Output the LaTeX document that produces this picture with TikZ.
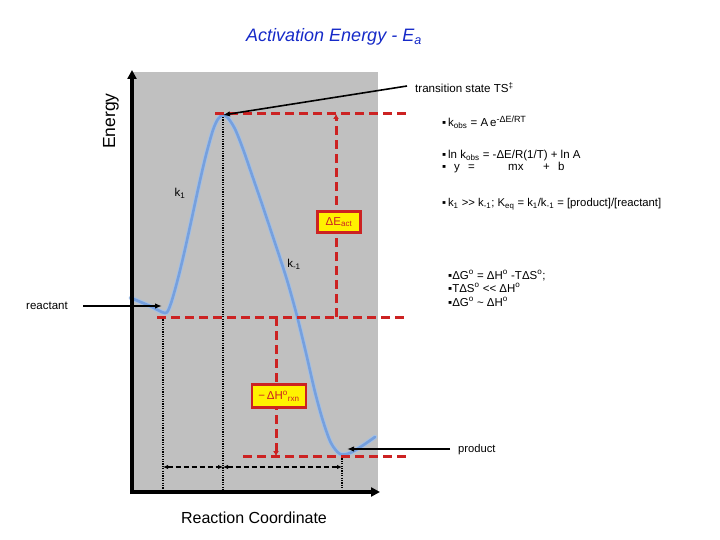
\documentclass[tikz,border=0pt]{standalone}
\usepackage{fontspec}
\setmainfont{Liberation Sans}
\usetikzlibrary{arrows.meta}
\definecolor{redc}{RGB}{204,34,34}
\definecolor{grayc}{RGB}{192,192,192}
\definecolor{curvec}{RGB}{118,160,222}
\definecolor{curvebl}{RGB}{165,192,228}
\definecolor{titlec}{RGB}{22,42,200}
\tikzset{
  redline/.style={draw=redc, line width=3pt, dash pattern=on 9pt off 5pt},
  redarrow/.style={redline, -{Latex[length=5pt,width=6pt]}},
  dotline/.style={draw=black, line width=2pt, dash pattern=on 1.2pt off 1.2pt},
  dashblk/.style={draw=black, line width=1.3pt, dash pattern=on 5pt off 3pt, {Latex[length=5pt,width=4.5pt]}-{Latex[length=5pt,width=4.5pt]}},
  pointer/.style={draw=black, line width=1.6pt, -{Latex[length=7pt,width=5.5pt]}},
  axis/.style={draw=black, line width=3.5pt, -{Triangle[length=9pt,width=9pt]}},
  labelbox/.style={fill=yellow, draw=redc, line width=2.5pt, text=redc, inner sep=1pt, font=\fontsize{11.5}{12}\selectfont},
  txt/.style={font=\fontsize{11.5}{13}\selectfont, anchor=base west, inner sep=0pt},
  gtxt/.style={font=\fontsize{11.5}{13}\selectfont, anchor=base west, inner sep=0pt},
  lbl/.style={font=\fontsize{11.5}{13}\selectfont, inner sep=0pt}
}
\newcommand{\curvepts}{(131,298) (150,306) (165,313) (170,306) (176,286) (183,258) (191,222) (199,185) (206,155) (213,130) (218,119) (223,115) (228,118) (235,129) (243,149) (252,175) (263,207) (275,243) (287,280) (297,316) (306,353) (315,392) (323,421) (331,443) (340,454) (350,453) (362,446) (375,437)}
\begin{document}
\begin{tikzpicture}[x=1pt,y=-1pt]
\useasboundingbox (0,0) rectangle (720,540);
% plotting area
\fill[grayc] (132,72) rectangle (378,492);
% curve
\draw[curvebl, line width=4.5pt, line cap=round] plot[smooth, tension=0.5] coordinates {\curvepts};
\draw[curvec, line width=2.6pt, line cap=round] plot[smooth, tension=0.5] coordinates {\curvepts};
% coordinates
\coordinate (ts) at (223,115);
\coordinate (tsL) at (215,114);
\coordinate (tsR) at (410,114);
\coordinate (reL) at (157,317);
\coordinate (reR) at (405,317);
\coordinate (prL) at (243,456);
\coordinate (prR) at (407,456);
\coordinate (eaB) at (336,317);
\coordinate (eaT) at (336,114);
\coordinate (dhT) at (276,317);
\coordinate (dhB) at (276,456);
\coordinate (d1T) at (163,317);
\coordinate (d1B) at (163,492);
\coordinate (d2T) at (223,117);
\coordinate (d2B) at (223,492);
\coordinate (d3T) at (342,456);
\coordinate (d3B) at (342,492);
\coordinate (h1) at (163,467);
\coordinate (h2) at (223,467);
\coordinate (h3) at (342,467);
\coordinate (origin) at (132,494);
\coordinate (ytop) at (132,70);
\coordinate (xend) at (380,492);
% dotted verticals
\draw[dotline] (d1T) -- (d1B);
\draw[dotline] (d2T) -- (d2B);
\draw[dotline] (d3T) -- (d3B);
% red dashed levels
\draw[redline] (tsL) -- (tsR);
\draw[redline] (reL) -- (reR);
\draw[redline] (prL) -- (prR);
\draw[redarrow] (eaB) -- (eaT);
\draw[redarrow] (dhT) -- (dhB);
% dashed double arrows
\draw[dashblk] (h1) -- (h2);
\draw[dashblk] (h2) -- (h3);
% axes
\draw[axis] (origin) -- (ytop);
\draw[axis] (132,492) -- (xend);
% boxes
\node[labelbox, minimum width=43pt, minimum height=21pt] (ea) at (339,222) {ΔE\textsubscript{act}};
\node[labelbox, minimum width=54pt, minimum height=23pt] (dh) at (279,396) {−\,ΔH\textsuperscript{o}\textsubscript{rxn}};
% title and axis labels
\node[font=\fontsize{18}{21}\selectfont\itshape, text=titlec, inner sep=0pt] (title) at (334,37) {Activation Energy - E\textsubscript{a}};
\node[font=\fontsize{17.5}{20}\selectfont, rotate=90, inner sep=0pt] (energy) at (111,121) {Energy};
\node[font=\fontsize{16}{19}\selectfont, inner sep=0pt] (rc) at (254,518) {Reaction Coordinate};
% curve labels
\node[lbl] (k1) at (180,193) {k\textsubscript{1}};
\node[lbl] (km1) at (294,264) {k\textsubscript{-1}};
% pointer labels
\node[txt, font=\fontsize{11.6}{13}\selectfont] (tslab) at (415,93) {transition state TS\textsuperscript{‡}};
\node[txt, font=\fontsize{11.5}{13}\selectfont, anchor=base east] (relab) at (68,309) {reactant};
\node[txt, font=\fontsize{11.2}{13}\selectfont] (prlab) at (458,452) {product};
\coordinate (tsS) at (407,86);
\coordinate (reS) at (83,306);
\coordinate (reE) at (162,306);
\coordinate (prS) at (450,449);
\coordinate (prE) at (347,449);
\draw[pointer] (tsS) -- (ts);
\draw[pointer] (reS) -- (reE);
\draw[pointer] (prS) -- (prE);
% right-hand text
\node[txt] (t1) at (442,127) {▪\,k\textsubscript{obs} = A\,e\raisebox{4pt}{\fontsize{9}{10}\selectfont -ΔE/RT}};
\node[txt] (t2) at (442,159) {▪\,ln k\textsubscript{obs} = -ΔE/R(1/T) + ln A};
\node[txt] (t3) at (442,171) {\rlap{▪}\rlap{\hspace*{12pt}y}\rlap{\hspace*{26pt}=}\rlap{\hspace*{66pt}mx}\rlap{\hspace*{101pt}+}\hspace*{116pt}b};
\node[txt, font=\fontsize{11.3}{13}\selectfont] (t4) at (442,207) {▪\,k\textsubscript{1} >\kern0pt> k\textsubscript{-1}; K\textsubscript{eq} = k\textsubscript{1}/k\textsubscript{-1} = [product]/[reactant]};
\node[gtxt] (g1) at (448,279) {▪ΔG\textsuperscript{o} = ΔH\textsuperscript{o} -TΔS\textsuperscript{o};};
\node[gtxt] (g2) at (448,292) {▪TΔS\textsuperscript{o} <\kern0pt< ΔH\textsuperscript{o}};
\node[gtxt] (g3) at (448,306) {▪ΔG\textsuperscript{o} \textasciitilde{} ΔH\textsuperscript{o}};
\end{tikzpicture}
\end{document}
